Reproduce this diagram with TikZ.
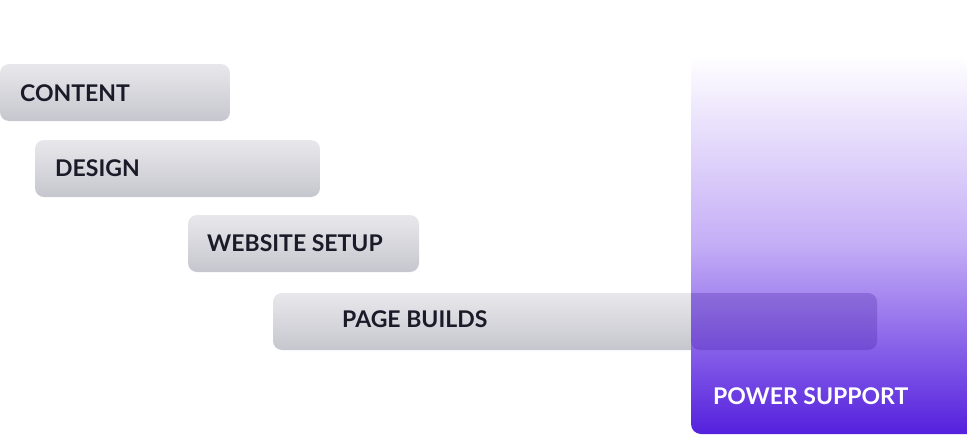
\documentclass[tikz,border=0pt]{standalone}
\usepackage{fontspec}
\setmainfont{Lato}
\definecolor{barTop}{HTML}{E8E8EC}
\definecolor{barBot}{HTML}{C6C6CE}
\definecolor{powerTop}{HTML}{FFFFFF}
\definecolor{powerMid}{HTML}{C4AEF6}
\definecolor{powerBot}{HTML}{5420DD}
\definecolor{labelInk}{HTML}{1A1A28}
\tikzset{
  phase/.style={rounded corners=9pt, top color=barTop, bottom color=barBot, draw=none},
  phaselabel/.style={anchor=west, font=\bfseries\fontsize{23}{23}\selectfont, text=labelInk, inner sep=0pt}
}
\begin{document}
\begin{tikzpicture}[x=1pt, y=-1pt]
                \useasboundingbox (0,0) rectangle (967,434);
                % Bars
                \shade[phase] (0,64) rectangle (230,121);
                \node[phaselabel] (content) at (20,93) {CONTENT};
                \shade[phase] (35,140) rectangle (320,197);
                \node[phaselabel] (design) at (55,168) {DESIGN};
                \shade[phase] (188,215) rectangle (419,272);
                \node[phaselabel] (setup) at (207,243) {WEBSITE SETUP};
                \shade[phase] (273,293) rectangle (877,350);
                % Power support panel
                \shade[top color=powerTop, bottom color=powerBot, middle color=powerMid]
                    (691,55) -- (967,55) -- (967,434) [rounded corners=10pt] -- (691,434) [sharp corners] -- cycle;
                \fill[powerBot!70!black, fill opacity=0.25, rounded corners=9pt]
                    (691,293) -- (877,293) -- (877,350) -- (691,350) [sharp corners] -- cycle;
                \node[phaselabel] (builds) at (342,319) {PAGE BUILDS};
                \node[phaselabel, text=white] (power) at (713,396) {POWER SUPPORT};
            \end{tikzpicture}
\end{document}
